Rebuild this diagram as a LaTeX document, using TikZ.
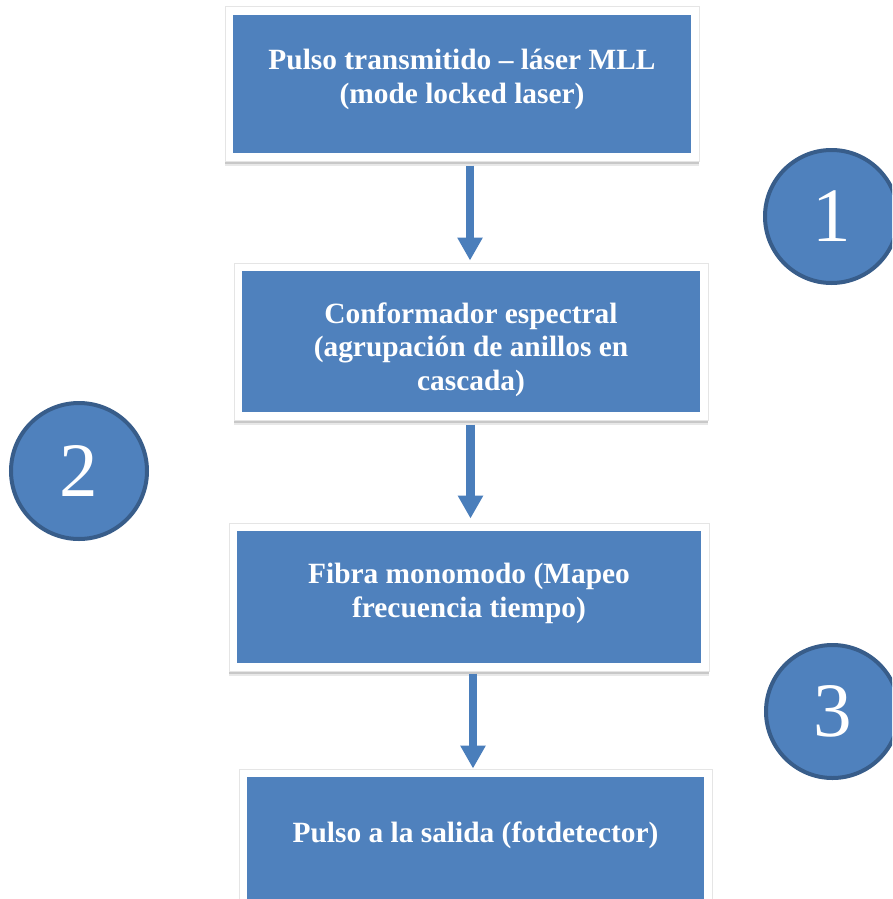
\documentclass[tikz,border=0pt]{standalone}
\usepackage{fontspec}
\setmainfont{Liberation Serif}
\usetikzlibrary{arrows.meta,calc}
\definecolor{boxblue}{HTML}{4F81BD}
\definecolor{ringblue}{HTML}{385D8A}
\definecolor{arrblue}{HTML}{4A7EBB}
\tikzset{
  stagebox/.style={rectangle, fill=boxblue, draw=white, line width=7.5pt, inner sep=0pt,
    preaction={draw=black!25, line width=9pt, opacity=0.35, transform canvas={yshift=-5pt}},
    preaction={draw=black!40, line width=9pt, opacity=0.4, transform canvas={yshift=-3pt}},
    preaction={draw=black!10, line width=9.5pt}},
  stagetext/.style={text=white, align=center, inner sep=0pt, anchor=base,
    font=\fontsize{29.4}{33.5}\selectfont\bfseries},
  numring/.style={circle, fill=boxblue, draw=ringblue, line width=4pt, inner sep=0pt,
    text=white, font=\fontsize{77}{77}\selectfont},
  flow/.style={arrblue, line width=8.5pt, -{Triangle[width=24pt,length=23pt]}}
}
\begin{document}
\begin{tikzpicture}[x=1pt,y=-1pt]
\clip (0,0) rectangle (892,899);
\fill[white] (0,0) rectangle (892,899);
% boxes
\node[stagebox, minimum width=465.5pt, minimum height=145.5pt] (b1) at (462,84) {};
\node[stagebox, minimum width=465.5pt, minimum height=148.5pt] (b2) at (471,341.5) {};
\node[stagebox, minimum width=471.5pt, minimum height=139.5pt] (b3) at (469,597) {};
\node[stagebox, minimum width=464.5pt, minimum height=155.5pt] (b4) at (475.5,851) {};
% texts (anchor base = last line)
\node[stagetext] (t1) at (462,103) {Pulso transmitido -- láser MLL\\(mode locked laser)};
\node[stagetext] (t2) at (471,390) {Conformador espectral\\(agrupación de anillos en\\cascada)};
\node[stagetext] (t3) at (469,617) {Fibra monomodo (Mapeo\\frecuencia tiempo)};
\node[stagetext] (t4) at (475.5,842) {Pulso a la salida (fotdetector)};
% arrows
\coordinate (ax1) at (470,0);
\coordinate (ax2) at (470.5,0);
\coordinate (ax3) at (473,0);
\draw[flow] ($(b1.south -| ax1)+(0,5)$) -- ($(b2.north -| ax1)+(0,-3)$);
\draw[flow] ($(b2.south -| ax2)+(0,5)$) -- ($(b3.north -| ax2)+(0,-5)$);
\draw[flow] ($(b3.south -| ax3)+(0,3)$) -- ($(b4.north -| ax3)+(0,-1)$);
% numbered circles
\node[numring, minimum size=133pt] (c1) at (831.5,216.5) {\raisebox{-2pt}{1}};
\node[numring, minimum size=136pt] (c2) at (79,471) {\raisebox{-2pt}{2}};
\node[numring, minimum size=133pt] (c3) at (832.5,711.5) {\raisebox{-2pt}{3}};
\end{tikzpicture}
\end{document}
